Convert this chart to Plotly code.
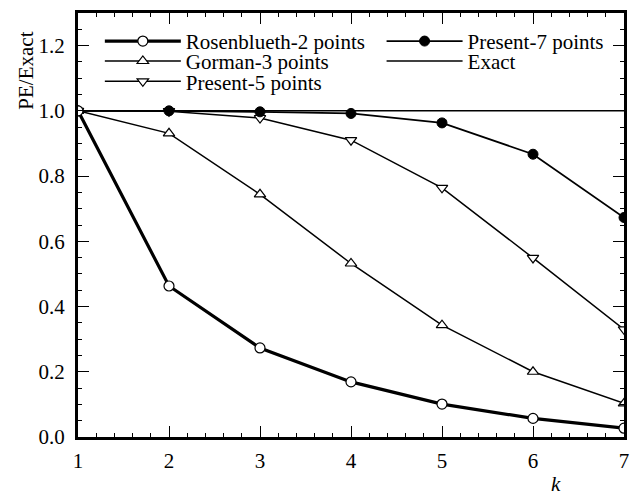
import plotly.graph_objects as go

k = [1, 2, 3, 4, 5, 6, 7]
rosenblueth = [1.0, 0.463, 0.273, 0.169, 0.101, 0.057, 0.027]
gorman = [1.0, 0.931, 0.744, 0.532, 0.343, 0.200, 0.103]
present5 = [1.0, 0.999, 0.978, 0.910, 0.764, 0.549, 0.330]
present7 = [1.0, 1.0, 0.997, 0.992, 0.963, 0.867, 0.673]
exact = [1.0, 1.0, 1.0, 1.0, 1.0, 1.0, 1.0]

FONT = '"Liberation Serif", "Times New Roman", Times, serif'
FS = 21

fig = go.Figure()

fig.add_trace(go.Scatter(x=k, y=exact, mode="lines", name="Exact",
                         line=dict(color="black", width=1.5), legend="legend4"))
fig.add_trace(go.Scatter(x=k, y=gorman, mode="lines+markers", name="Gorman-3 points",
                         line=dict(color="black", width=1.5),
                         marker=dict(symbol="triangle-up", size=10, color="white",
                                     line=dict(color="black", width=1.2)),
                         legend="legend2"))
fig.add_trace(go.Scatter(x=k, y=present5, mode="lines+markers", name="Present-5 points",
                         line=dict(color="black", width=1.5),
                         marker=dict(symbol="triangle-down", size=10, color="white",
                                     line=dict(color="black", width=1.2)),
                         legend="legend3"))
fig.add_trace(go.Scatter(x=k, y=present7, mode="lines+markers", name="Present-7 points",
                         line=dict(color="black", width=1.8),
                         marker=dict(symbol="circle", size=10, color="black",
                                     line=dict(color="black", width=1)),
                         legend="legend5"))
fig.add_trace(go.Scatter(x=k, y=rosenblueth, mode="lines+markers", name="Rosenblueth-2 points",
                         line=dict(color="black", width=3.2),
                         marker=dict(symbol="circle", size=10, color="white",
                                     line=dict(color="black", width=1.2)),
                         legend="legend"))

def leg(x, y):
    return dict(x=x, y=y, xanchor="left", yanchor="middle", bgcolor="rgba(0,0,0,0)",
                font=dict(family=FONT, size=FS, color="black"), itemwidth=76,
                tracegroupgap=0)

c1, c2 = 0.04, 0.556
r1, r2, r3 = 0.933, 0.886, 0.838
fig.update_layout(
    legend=leg(c1, r1),
    legend2=leg(c1, r2),
    legend3=leg(c1, r3),
    legend5=leg(c2, r1),
    legend4=leg(c2, r2),
)

axis_common = dict(
    showline=True, linecolor="black", linewidth=3, mirror="allticks",
    ticks="inside", ticklen=11, tickwidth=1, tickcolor="black",
    showgrid=False, zeroline=False,
    tickfont=dict(family=FONT, size=FS, color="black"),
)

fig.update_xaxes(range=[1, 7], dtick=1, tick0=1, ticklabelstandoff=3,
                 minor=dict(dtick=0.2, ticks="inside", ticklen=4, tickwidth=1, tickcolor="black", showgrid=False),
                 **axis_common)
fig.update_yaxes(range=[0, 1.3], dtick=0.2, tick0=0, tickformat=".1f", ticklabelstandoff=6,
                 minor=dict(dtick=0.05, ticks="inside", ticklen=4, tickwidth=1, tickcolor="black", showgrid=False),
                 **axis_common)

fig.add_annotation(text="PE/Exact", textangle=-90, xref="paper", yref="paper",
                   x=0, xshift=-52, y=0.864, xanchor="center", yanchor="middle",
                   showarrow=False, font=dict(family=FONT, size=FS, color="black"))
fig.add_annotation(text="<i>k</i>", xref="paper", yref="paper",
                   x=0.876, y=0, yshift=-47, xanchor="center", yanchor="middle",
                   showarrow=False, font=dict(family=FONT, size=FS, color="black"))

fig.update_layout(
    width=639, height=495,
    margin=dict(l=78, r=10, t=10, b=58),
    plot_bgcolor="white", paper_bgcolor="white",
    showlegend=True,
)

fig.write_html("out.html", config={"displayModeBar": False},
               post_script="document.body.style.margin='0';document.body.style.padding='0';")
